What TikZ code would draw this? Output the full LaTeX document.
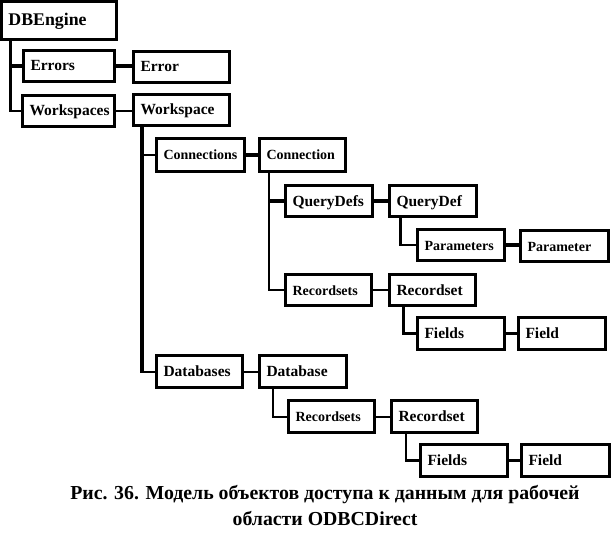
\documentclass[tikz,border=0pt]{standalone}
\usepackage{fontspec}
\setmainfont{Liberation Serif}
\tikzstyle{diagram} = [x = 1pt, y = -1pt]
\tikzstyle{objectStyle} = [draw, line width = 2.6pt, inner xsep = 7pt, text height = 12pt, text depth = 2pt, font = \fontsize{15.5}{18}\selectfont\bfseries]
\tikzstyle{objectNormal} = []
\tikzstyle{objectLarge} = [font = \fontsize{17.8}{20}\selectfont\bfseries]
\tikzstyle{objectSmall} = [font = \fontsize{14}{16}\selectfont\bfseries]
\tikzstyle{linkThick} = [line width = 3.8pt]
\tikzstyle{linkMid} = [line width = 2.8pt]
\tikzstyle{linkThin} = [line width = 2pt]
\tikzstyle{captionStyle} = [align = center, inner sep = 0pt, font = \fontsize{19.8}{26.5}\selectfont\bfseries]
\newcommand{\objectBox}[7]{\node [objectStyle, #6, anchor = north west, minimum width = #4 - 2.6, minimum height = #5 - 2.6] (#1) at (#2, #3) {\makebox[\dimexpr #4pt - 17pt\relax][l]{#7}};}
\newcommand{\siblingLink}[3]{\draw [#1] (#2.east) -- (#2.east -| #3.west);}
\newcommand{\trunkAt}[3]{\path (#1.south west) ++(#2, 0) coordinate (#3);}
\begin{document}
\begin{tikzpicture}[diagram]
  \useasboundingbox (0,0) rectangle (612,548);
  % object boxes
  \objectBox{DBEngine}{0}{0}{118}{41}{objectLarge}{DBEngine}
  \objectBox{Errors}{22}{49}{94}{34}{objectNormal}{Errors}\objectBox{Error}{132}{50}{99}{34}{objectNormal}{Error}
  \objectBox{Workspaces}{21}{94}{95}{34}{objectNormal}{Workspaces}\objectBox{Workspace}{132}{93}{99}{34}{objectNormal}{Workspace}
  \objectBox{Connections}{155}{137}{91}{36}{objectSmall}{Connections}\objectBox{Connection}{258}{137}{89}{36}{objectSmall}{Connection}
  \objectBox{QueryDefs}{284}{184}{90}{34}{objectNormal}{QueryDefs}\objectBox{QueryDef}{388}{184}{90}{34}{objectNormal}{QueryDef}
  \objectBox{Parameters}{416}{228}{90}{34}{objectSmall}{Parameters}\objectBox{Parameter}{519}{229}{91}{34}{objectSmall}{Parameter}
  \objectBox{Recordsets}{284}{273}{89}{34}{objectSmall}{Recordsets}\objectBox{Recordset}{388}{273}{89}{34}{objectNormal}{Recordset}
  \objectBox{Fields}{416}{316}{90}{35}{objectNormal}{Fields}\objectBox{Field}{517}{316}{90}{35}{objectNormal}{Field}
  \objectBox{Databases}{155}{354}{89}{35}{objectNormal}{Databases}\objectBox{Database}{258}{354}{90}{35}{objectNormal}{Database}
  \objectBox{dbRecordsets}{287}{399}{89}{35}{objectSmall}{Recordsets}\objectBox{dbRecordset}{390}{399}{89}{35}{objectNormal}{Recordset}
  \objectBox{dbFields}{419}{443}{90}{35}{objectNormal}{Fields}\objectBox{dbField}{520}{443}{91}{35}{objectNormal}{Field}
  % tree lines
  \trunkAt{DBEngine}{10.7}{engineTrunk}\trunkAt{Workspace}{9.7}{workspaceTrunk}\trunkAt{Connection}{11.3}{connectionTrunk}
  \trunkAt{QueryDef}{12.7}{queryDefTrunk}\trunkAt{Recordset}{15.7}{recordsetTrunk}\trunkAt{Database}{15.3}{databaseTrunk}\trunkAt{dbRecordset}{16}{dbRecordsetTrunk}
  \draw [linkMid] (engineTrunk) |- (Workspaces.west);
  \draw [linkThick] (Errors.west) -- (Errors.west -| engineTrunk);
  \draw [linkThick, line cap = rect] (workspaceTrunk) -- (Databases.west -| workspaceTrunk);
  \draw [linkThin] (Connections.west) -- (Connections.west -| workspaceTrunk);
  \draw [linkThin] (Databases.west) -- (Databases.west -| workspaceTrunk);
  \draw [linkThin] (connectionTrunk) |- (Recordsets.west);
  \draw [linkThick] (QueryDefs.west) -- (QueryDefs.west -| connectionTrunk);
  \draw [linkMid] (queryDefTrunk) |- (Parameters.west);
  \draw [linkMid] (recordsetTrunk) |- (Fields.west);
  \draw [linkThin] (databaseTrunk) |- (dbRecordsets.west);
  \draw [linkMid] (dbRecordsetTrunk) |- (dbFields.west);
  % links between collection and object
  \siblingLink{linkThick}{Errors}{Error}\siblingLink{linkThin}{Workspaces}{Workspace}\siblingLink{linkThick}{Connections}{Connection}
  \siblingLink{linkThick}{QueryDefs}{QueryDef}\siblingLink{linkThick}{Parameters}{Parameter}\siblingLink{linkThin}{Recordsets}{Recordset}
  \siblingLink{linkThick}{Fields}{Field}\siblingLink{linkThin}{Databases}{Database}\siblingLink{linkThin}{dbRecordsets}{dbRecordset}
  \siblingLink{linkThick}{dbFields}{dbField}
  \node [captionStyle, anchor = north] (caption) at (325, 485) {Рис. 36. Модель объектов доступа к данным для рабочей\\области ODBCDirect};
\end{tikzpicture}
\end{document}
